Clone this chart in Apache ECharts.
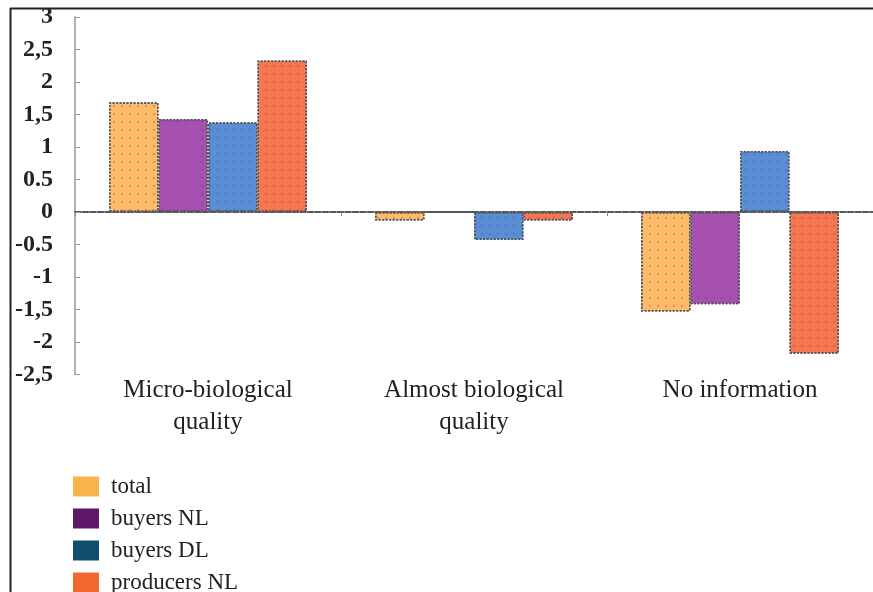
<!DOCTYPE html>
<html>
<head>
<meta charset="utf-8">
<script src="https://cdn.jsdelivr.net/npm/echarts@6/dist/echarts.min.js"></script>
<style>html,body{margin:0;padding:0;background:#fff}#c{width:873px;height:592px}</style>
</head>
<body>
<div id="c"></div>
<script>
const categories = ['Micro-biological\nquality', 'Almost biological\nquality', 'No information'];
const seriesNames = ['total', 'buyers NL', 'buyers DL', 'producers NL'];
const total = [1.69, -0.13, -1.53];
const buyersNL = [1.43, 0, -1.42];
const buyersDL = [1.38, -0.43, 0.94];
const producersNL = [2.33, -0.13, -2.18];
const yTickValues = [3, 2.5, 2, 1.5, 1, 0.5, 0, -0.5, -1, -1.5, -2, -2.5];
const yTickLabels = ['3', '2,5', '2', '1,5', '1', '0.5', '0', '-0.5', '-1', '-1,5', '-2', '-2,5'];

const barColors = ['#FDBB68', '#A650B0', '#5A8ED4', '#F6774F'];
const legendColors = ['#F7B44C', '#5E1768', '#0F4E6C', '#F1692F'];
const dataSets = [total, buyersNL, buyersDL, producersNL];
const font = '"Liberation Serif", "Times New Roman", serif';

const chart = echarts.init(document.getElementById('c'));
chart.setOption({
  animation: false,
  backgroundColor: '#fff',
  grid: { left: 75, top: 17, bottom: 217.5, right: -11, containLabel: false },
  legend: seriesNames.map((n, i) => ({
    orient: 'vertical', left: 73, top: 475 + i * 32, padding: 0,
    itemWidth: 26, itemHeight: 20,
    icon: 'rect',
    textStyle: { fontFamily: font, fontSize: 23, color: '#222', padding: [0, 0, 0, 7] },
    data: [{ name: n, itemStyle: { color: legendColors[i], borderWidth: 0, decal: 'none' } }]
  })),
  xAxis: [
    {
      type: 'category', data: categories, position: 'bottom',
      axisLine: { show: false, onZero: false }, axisTick: { show: false },
      axisLabel: { fontFamily: font, fontSize: 25, lineHeight: 32, color: '#222', margin: 0, interval: 0 }
    },
    {
      type: 'category', data: categories, position: 'bottom',
      axisLine: { show: true, onZero: true, lineStyle: { color: '#222', width: 1.5, type: [6, 1.5] } },
      axisTick: { show: true, length: 4, lineStyle: { color: '#888' } },
      axisLabel: { show: false }
    }
  ],
  yAxis: {
    type: 'value', min: -2.5, max: 3, interval: 0.5,
    axisLine: { show: true, lineStyle: { color: '#999', width: 1.5 } },
    axisTick: { show: true, inside: true, length: 5, lineStyle: { color: '#999' } },
    splitLine: { show: false },
    axisLabel: {
      fontFamily: font, fontSize: 24, fontWeight: 'bold', color: '#222', margin: 22,
      formatter: v => {
        const i = yTickValues.findIndex(t => Math.abs(t - v) < 1e-9);
        return i >= 0 ? yTickLabels[i] : '';
      }
    }
  },
  graphic: [
    { type: 'line', shape: { x1: 10.5, y1: 8, x2: 10.5, y2: 592 }, style: { stroke: '#222', lineWidth: 2 }, z: 100 },
    { type: 'line', shape: { x1: 10, y1: 8.5, x2: 873, y2: 8.5 }, style: { stroke: '#222', lineWidth: 2 }, z: 100 }
  ],
  series: seriesNames.map((n, i) => ({
    name: n, type: 'bar', xAxisIndex: 0, data: dataSets[i],
    barWidth: 49.5, barGap: '0%',
    itemStyle: {
      color: barColors[i], borderColor: '#555', borderWidth: 1.5, borderType: [2, 1.5],
      decal: { symbol: 'circle', symbolSize: 0.5, color: 'rgba(110,50,140,0.4)', dashArrayX: [4, 4], dashArrayY: [4, 4] }
    }
  }))
});
</script>
</body>
</html>
